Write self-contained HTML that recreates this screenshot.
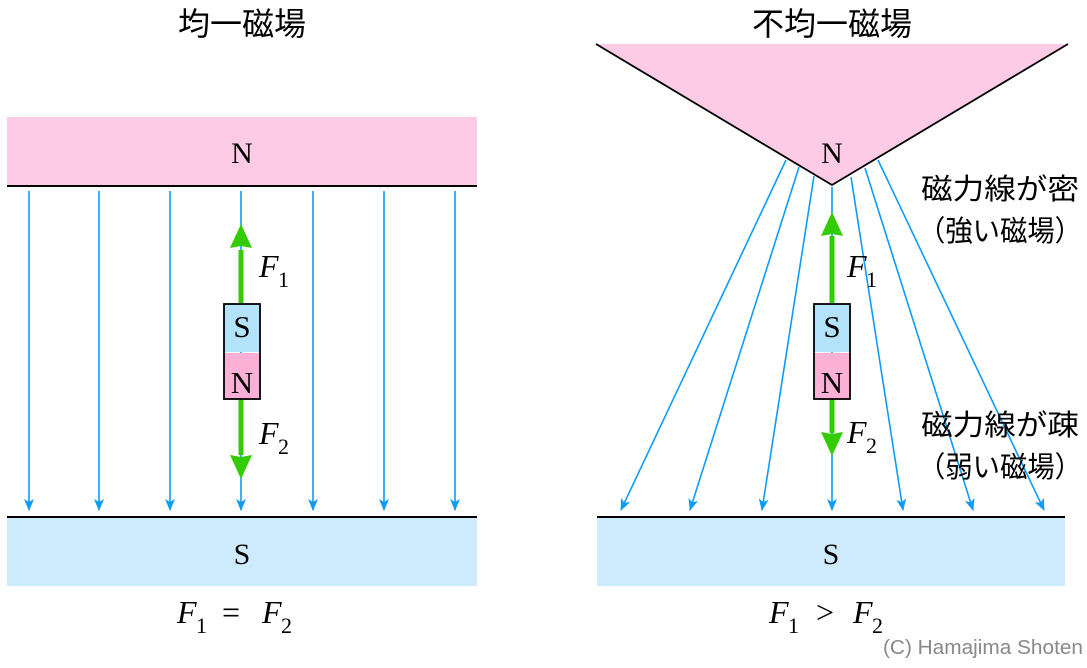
<!DOCTYPE html>
<html><head><meta charset="utf-8"><style>
html,body{margin:0;padding:0;background:#fff;}
svg{display:block;}
.jp{font-family:"Liberation Sans","Noto Sans CJK JP",sans-serif;}
.serif{font-family:"Liberation Serif","DejaVu Serif",serif;}
</style></head><body>
<svg width="1087" height="668" viewBox="0 0 1087 668" xmlns="http://www.w3.org/2000/svg">
<defs>
<marker id="ah" viewBox="0 0 12 12" refX="11" refY="6" markerWidth="12" markerHeight="12" markerUnits="userSpaceOnUse" orient="auto">
<path d="M0,1 L12,6 L0,11 L3,6 Z" fill="#0d9cf7"/>
</marker>
</defs>
<text x="242" y="35" class="jp" font-size="32" text-anchor="middle">均一磁場</text>
<text x="832" y="35" class="jp" font-size="32" text-anchor="middle">不均一磁場</text>

<rect x="7" y="117" width="470" height="69" fill="#fdcbe5"/>
<line x1="7" y1="186" x2="477" y2="186" stroke="#000" stroke-width="2"/>
<text x="242" y="163" class="serif" font-size="30" text-anchor="middle">N</text>
<rect x="7" y="517" width="470" height="69" fill="#cdebfc"/>
<line x1="7" y1="517" x2="477" y2="517" stroke="#000" stroke-width="2"/>
<text x="242" y="564" class="serif" font-size="30" text-anchor="middle">S</text>

<g stroke="#0d9cf7" stroke-width="1.6" marker-end="url(#ah)">
<line x1="29" y1="191" x2="29" y2="510"/>
<line x1="99" y1="191" x2="99" y2="510"/>
<line x1="170" y1="191" x2="170" y2="510"/>
<line x1="241" y1="191" x2="241" y2="510"/>
<line x1="313" y1="191" x2="313" y2="510"/>
<line x1="384" y1="191" x2="384" y2="510"/>
<line x1="455" y1="191" x2="455" y2="510"/>
</g>
<rect x="224" y="304" width="36" height="48" fill="#b3e3fb"/>
<rect x="224" y="353" width="36" height="46" fill="#fdb0d5"/>
<rect x="224" y="304" width="36" height="95" fill="none" stroke="#000" stroke-width="1.8"/>
<text x="242" y="337" class="serif" font-size="31" text-anchor="middle">S</text>
<text x="242" y="393" class="serif" font-size="31" text-anchor="middle">N</text>
<line x1="241" y1="303" x2="241" y2="250" stroke="#33cc00" stroke-width="5"/>
<path d="M241,224 L252,248 L241,246 L230,248 Z" fill="#33cc00"/>
<line x1="241" y1="400" x2="241" y2="455" stroke="#33cc00" stroke-width="5"/>
<path d="M241,479 L252,455 L241,457 L230,455 Z" fill="#33cc00"/>
<text x="259" y="277" class="serif" font-size="32" font-style="italic">F</text><text x="278" y="287" class="serif" font-size="22">1</text>
<text x="259" y="444" class="serif" font-size="32" font-style="italic">F</text><text x="278" y="454" class="serif" font-size="22">2</text>
<text x="177" y="623" class="serif" font-size="32" font-style="italic">F</text><text x="196" y="633" class="serif" font-size="22">1</text>
<text x="222" y="623" class="serif" font-size="32">=</text>
<text x="262" y="623" class="serif" font-size="32" font-style="italic">F</text><text x="281" y="633" class="serif" font-size="22">2</text>

<polygon points="596,44 1068,44 832,185" fill="#fdcbe5"/>
<polyline points="596,44 832,185 1068,44" fill="none" stroke="#000" stroke-width="1.8"/>
<text x="832" y="163" class="serif" font-size="30" text-anchor="middle">N</text>
<rect x="597" y="517" width="468" height="69" fill="#cdebfc"/>
<line x1="597" y1="517" x2="1065" y2="517" stroke="#000" stroke-width="2"/>
<text x="831" y="564" class="serif" font-size="30" text-anchor="middle">S</text>

<g stroke="#0d9cf7" stroke-width="1.6" marker-end="url(#ah)">
<line x1="786" y1="160" x2="621" y2="510"/>
<line x1="799" y1="167" x2="690" y2="510"/>
<line x1="814" y1="176" x2="762" y2="510"/>
<line x1="832" y1="187" x2="832" y2="510"/>
<line x1="851" y1="177" x2="903" y2="510"/>
<line x1="865" y1="168" x2="973" y2="510"/>
<line x1="878" y1="160" x2="1044" y2="510"/>
</g>
<rect x="814" y="304" width="36" height="48" fill="#b3e3fb"/>
<rect x="814" y="353" width="36" height="46" fill="#fdb0d5"/>
<rect x="814" y="304" width="36" height="95" fill="none" stroke="#000" stroke-width="1.8"/>
<text x="832" y="337" class="serif" font-size="31" text-anchor="middle">S</text>
<text x="832" y="393" class="serif" font-size="31" text-anchor="middle">N</text>
<line x1="832" y1="303" x2="832" y2="236" stroke="#33cc00" stroke-width="5"/>
<path d="M832,212 L843,236 L832,234 L821,236 Z" fill="#33cc00"/>
<line x1="832" y1="400" x2="832" y2="433" stroke="#33cc00" stroke-width="5"/>
<path d="M832,456 L843,432 L832,434 L821,432 Z" fill="#33cc00"/>
<text x="847" y="277" class="serif" font-size="32" font-style="italic">F</text><text x="866" y="287" class="serif" font-size="22">1</text>
<text x="847" y="443" class="serif" font-size="32" font-style="italic">F</text><text x="866" y="453" class="serif" font-size="22">2</text>
<text x="769" y="623" class="serif" font-size="32" font-style="italic">F</text><text x="788" y="633" class="serif" font-size="22">1</text>
<text x="816" y="623" class="serif" font-size="32">&gt;</text>
<text x="853" y="623" class="serif" font-size="32" font-style="italic">F</text><text x="872" y="633" class="serif" font-size="22">2</text>

<text x="921" y="199" class="jp" font-size="29" textLength="158" lengthAdjust="spacingAndGlyphs">磁力線が密</text>
<text x="918" y="241" class="jp" font-size="29" textLength="164" lengthAdjust="spacingAndGlyphs">（強い磁場）</text>
<text x="921" y="435" class="jp" font-size="29" textLength="158" lengthAdjust="spacingAndGlyphs">磁力線が疎</text>
<text x="918" y="477" class="jp" font-size="29" textLength="164" lengthAdjust="spacingAndGlyphs">（弱い磁場）</text>

<text x="883" y="654" font-family="Liberation Sans, sans-serif" font-size="20" fill="#888" textLength="200" lengthAdjust="spacingAndGlyphs">(C) Hamajima Shoten</text>
</svg>
</body></html>
